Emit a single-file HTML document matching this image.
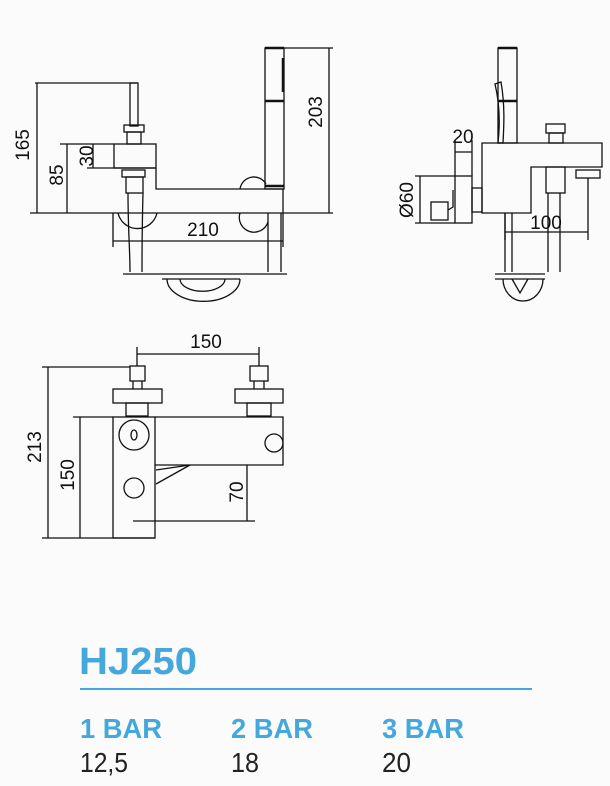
<!DOCTYPE html>
<html><head><meta charset="utf-8"><style>
html,body{margin:0;padding:0;background:#fbfbfb;}
svg{display:block;}
.t{font-family:"Liberation Sans",sans-serif;font-size:19px;fill:#111;}
.b{font-family:"Liberation Sans Narrow","Liberation Sans",sans-serif;font-weight:bold;fill:#45a8dc;}
.n{font-family:"Liberation Sans Narrow","Liberation Sans",sans-serif;fill:#222;}
</style></head><body>
<svg width="610" height="786" viewBox="0 0 610 786" xmlns="http://www.w3.org/2000/svg">
<g fill="none" stroke="#111" stroke-width="1.3">
<path d="M35 83H137M37 83V213M30 213H283"/>
<rect x="130" y="83" width="8" height="43"/>
<rect x="124" y="125" width="20" height="7"/>
<rect x="127" y="132" width="14" height="12"/>
<rect x="114" y="144" width="42" height="24"/>
<path d="M60 144H114M67 144V213M87 168H155M93 144V168"/>
<rect x="122" y="170" width="23" height="7"/>
<rect x="126" y="177" width="17" height="16"/>
<path d="M156 168V189H283V213"/>
<rect x="265" y="48" width="19" height="141"/>
<path d="M265 48H284M265 101H284M265 186H284M283 58V92" stroke-width="2.5"/>
<path d="M284 48H333M329 48V213M283 213H333"/>
<path d="M240 189A14 14 0 0 1 266 184"/>
<path d="M118 213A20 20 0 0 0 157 213"/>
<path d="M240 213A14 14 0 0 0 268 222"/>
<path d="M128 193C128 230 130 250 130 272M143 193C142 230 142 250 142 272M268 213V272M281 213V272"/>
<path d="M113 213V247M283 213V247M113 241H283"/>
<path d="M123 274H287M162 279H240"/>
<path d="M167 279A36 22 0 0 0 240 279M180 279A22 12 0 0 0 225 279"/>
<rect x="498" y="48" width="19" height="95"/>
<path d="M498 48H517M498 101H517" stroke-width="2.5"/>
<path d="M495 84L501 82C505 105 504 125 503 143H498C500 125 500 105 495 84Z"/>
<path d="M482 143H602V167H531V213H482Z"/>
<rect x="546" y="124" width="19" height="9"/>
<rect x="549" y="133" width="14" height="10"/>
<rect x="546" y="167" width="19" height="26"/>
<rect x="576" y="170" width="24" height="8"/>
<rect x="455" y="176" width="17" height="47"/>
<rect x="472" y="188" width="10" height="24"/>
<rect x="431" y="202" width="17" height="18"/>
<path d="M448 210L453 207V190"/>
<path d="M415 176H455M415 223H455M420 176V223M455 140V176M472 140V176M455 152H472"/>
<path d="M505 213V240M588 178V240M505 232H588"/>
<path d="M505 213V272M512 213V272M548 193V272M560 193V272M495 274H545M495 279H545"/>
<path d="M503 279A20 22 0 0 0 543 279M512 279L520 293L528 279"/>
<rect x="130" y="366" width="15" height="15"/>
<rect x="113" y="389" width="49" height="14"/>
<rect x="126" y="403" width="22" height="13"/>
<path d="M133 381V389M142 381V389"/>
<rect x="250" y="366" width="18" height="15"/>
<rect x="235" y="389" width="48" height="14"/>
<rect x="247" y="403" width="24" height="13"/>
<path d="M254 381V389M264 381V389"/>
<path d="M137 347V366M259 347V366M137 354H259"/>
<rect x="113" y="417" width="42" height="121"/>
<path d="M155 417H283V465H155"/>
<circle cx="134" cy="435" r="15"/>
<ellipse cx="134" cy="435" rx="3" ry="5"/>
<circle cx="134" cy="488" r="10"/>
<circle cx="274" cy="443" r="9"/>
<path d="M156 470L190 465M156 484L190 465"/>
<path d="M42 367H130M48 367V538M42 538H155M73 417H113M80 417V538M247 465V521M133 521H255"/>
</g>
<g class="t">
<text transform="translate(29,145) rotate(-90)" text-anchor="middle">165</text>
<text transform="translate(63,175) rotate(-90)" text-anchor="middle">85</text>
<text transform="translate(93,156) rotate(-90)" text-anchor="middle">30</text>
<text transform="translate(322,112) rotate(-90)" text-anchor="middle">203</text>
<text x="203" y="236" text-anchor="middle">210</text>
<text x="463" y="143" text-anchor="middle">20</text>
<text transform="translate(413,200) rotate(-90)" text-anchor="middle">Ø60</text>
<text x="546" y="229" text-anchor="middle">100</text>
<text x="206" y="348" text-anchor="middle">150</text>
<text transform="translate(41,447) rotate(-90)" text-anchor="middle">213</text>
<text transform="translate(74,475) rotate(-90)" text-anchor="middle">150</text>
<text transform="translate(243,492) rotate(-90)" text-anchor="middle">70</text>
</g>
<text class="b" x="79" y="674" font-size="38" textLength="118" lengthAdjust="spacingAndGlyphs">HJ250</text>
<rect x="80" y="688" width="452" height="2" fill="#45a8dc"/>
<text class="b" x="80" y="738" font-size="28" textLength="82" lengthAdjust="spacingAndGlyphs">1 BAR</text>
<text class="b" x="231" y="738" font-size="28" textLength="82" lengthAdjust="spacingAndGlyphs">2 BAR</text>
<text class="b" x="382" y="738" font-size="28" textLength="82" lengthAdjust="spacingAndGlyphs">3 BAR</text>
<text class="n" x="80" y="772" font-size="28" textLength="48" lengthAdjust="spacingAndGlyphs">12,5</text>
<text class="n" x="231" y="772" font-size="28" textLength="28" lengthAdjust="spacingAndGlyphs">18</text>
<text class="n" x="382" y="772" font-size="28" textLength="29" lengthAdjust="spacingAndGlyphs">20</text>
</svg>
</body></html>
